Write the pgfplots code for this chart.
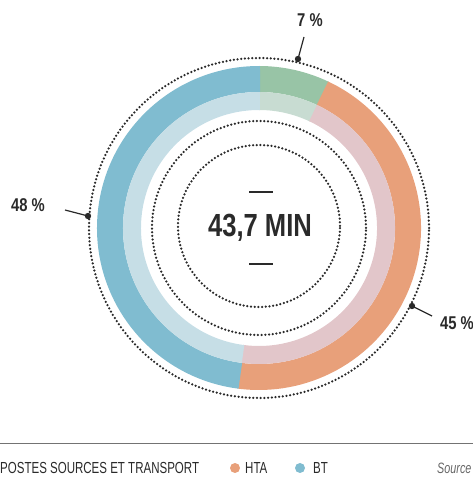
\documentclass[border=0pt]{standalone}
\usepackage{pgfplots}
\usepackage{pgfplotstable}
\pgfplotsset{compat=1.18}
\usepackage{fontspec}
\setmainfont{Liberation Sans}[FakeStretch=0.8]
\newfontfamily\legfont{Liberation Sans}[FakeStretch=0.72]

\definecolor{grnD}{RGB}{152,196,166}
\definecolor{grnL}{RGB}{200,220,210}
\definecolor{orgD}{RGB}{232,160,122}
\definecolor{orgL}{RGB}{226,198,202}
\definecolor{bluD}{RGB}{128,188,208}
\definecolor{bluL}{RGB}{198,222,230}
\definecolor{ink}{RGB}{42,42,42}

% share of the 43,7 minutes, clockwise from 12 o'clock
\pgfplotstableread{
label value
postes 7
HTA 45
BT 48
}\donut

\begin{document}
\begin{tikzpicture}
\useasboundingbox (0,0) rectangle (473pt,480pt);
\clip (0,0) rectangle (473pt,480pt);
\begin{axis}[
    at={(0,0)}, anchor=origin,
    x=1pt, y=1pt,
    xmin=0, xmax=473, ymin=0, ymax=480,
    hide axis, clip=false
]
% ring segments
\pgfplotsextra{%
  \gdef\angA{90}%
  \foreach \r/\cD/\cL in {0/grnD/grnL,1/orgD/orgL,2/bluD/bluL}{%
    \pgfplotstablegetelem{\r}{value}\of\donut
    \pgfmathsetmacro\angB{\angA-3.6*\pgfplotsretval}%
    \pgfmathsetmacro\angC{\angB-0.4}%
    \draw[\cD, line width=26pt] (axis cs:259,252) ++(\angA:149pt)
        arc[start angle=\angA, end angle=\angC, radius=149pt];
    \draw[\cL, line width=18pt] (axis cs:259,252) ++(\angA:127pt)
        arc[start angle=\angA, end angle=\angC, radius=127pt];
    \global\let\angA\angB
  }%
}
% dotted circles
\draw[ink, line width=2.5pt, line cap=round, dash pattern=on 0pt off 3.7pt]
    (axis cs:259,252) circle[radius=170pt];
\draw[ink, line width=2.5pt, line cap=round, dash pattern=on 0pt off 3.7pt]
    (axis cs:259,252) circle[radius=107pt];
\draw[ink, line width=2.5pt, line cap=round, dash pattern=on 0pt off 3.7pt]
    (axis cs:259,254) circle[radius=81pt];

% callouts
\draw[ink, line width=1.2pt] (axis cs:298,421) -- (axis cs:304,443);
\fill[ink] (axis cs:298,421) circle[radius=3.2pt];
\node[ink, font=\fontsize{18.5}{18.5}\selectfont\bfseries] at (axis cs:310,460) {7 \%};

\draw[ink, line width=1.2pt] (axis cs:88,264) -- (axis cs:65,270);
\fill[ink] (axis cs:88,264) circle[radius=3.2pt];
\node[ink, font=\fontsize{18.5}{18.5}\selectfont\bfseries] at (axis cs:28,275) {48 \%};

\draw[ink, line width=1.2pt] (axis cs:412,174) -- (axis cs:432,164);
\fill[ink] (axis cs:412,174) circle[radius=3.2pt];
\node[ink, font=\fontsize{18.5}{18.5}\selectfont\bfseries] at (axis cs:457,157) {45 \%};

% centre
\node[ink, font=\fontsize{32}{32}\selectfont\bfseries] at (axis cs:260,252) {43,7 MIN};
\draw[ink, line width=2.2pt] (axis cs:249,288) -- (axis cs:273,288);
\draw[ink, line width=2.2pt] (axis cs:249,216) -- (axis cs:273,216);

% legend
\draw[black!55, line width=0.9pt] (axis cs:0,37) -- (axis cs:473,37);
\fill[grnD] (axis cs:-12,12) circle[radius=5pt];
\node[ink, anchor=base west, inner sep=0pt, font=\fontsize{16}{16}\selectfont\legfont] at (axis cs:0,6) {POSTES SOURCES ET TRANSPORT};
\fill[orgD] (axis cs:235,12) circle[radius=5pt];
\node[ink, anchor=base west, inner sep=0pt, font=\fontsize{16}{16}\selectfont\legfont] at (axis cs:245,6) {HTA};
\fill[bluD] (axis cs:300,12) circle[radius=5pt];
\node[ink, anchor=base west, inner sep=0pt, font=\fontsize{16}{16}\selectfont\legfont] at (axis cs:313,6) {BT};
\node[black!60, anchor=base west, inner sep=0pt, font=\fontsize{15}{15}\selectfont\legfont\itshape] at (axis cs:437,6) {Source : Enedis};
\end{axis}
\end{tikzpicture}
\end{document}
